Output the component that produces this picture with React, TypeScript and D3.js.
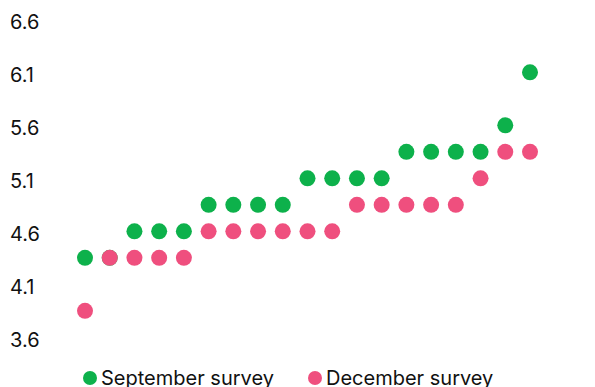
import React from "react";
import * as d3 from "d3";

const categories = Array.from({ length: 19 }, (_, i) => String(i + 1));
const september = [4.375, 4.375, 4.625, 4.625, 4.625, 4.875, 4.875, 4.875, 4.875, 5.125, 5.125, 5.125, 5.125, 5.375, 5.375, 5.375, 5.375, 5.625, 6.125];
const december = [3.875, 4.375, 4.375, 4.375, 4.375, 4.625, 4.625, 4.625, 4.625, 4.625, 4.625, 4.875, 4.875, 4.875, 4.875, 4.875, 5.125, 5.375, 5.375];
const yTicks = [3.6, 4.1, 4.6, 5.1, 5.6, 6.1, 6.6];
const seriesNames = ["September survey", "December survey"];
const colors = ["#0db14b", "#ef4f7e"];

export default function App() {
  const W = 595, H = 387;
  const x = d3.scalePoint<string>().domain(categories).range([85, 530]);
  const y = d3.scaleLinear().domain([3.6, 6.6]).range([340, 22]);
  const font = "Inter, 'Noto Sans', sans-serif";
  const series = [september, december];
  return (
    <svg width={W} height={H} style={{ position: "absolute", left: 0, top: 0 }} fontFamily={font}>
      {yTicks.map((t) => (
        <text key={t} x={10} y={y(t)} dy="0.36em" fontSize={20} fill="#111">
          {d3.format(".1f")(t)}
        </text>
      ))}
      {series.map((s, si) => (
        <g key={si}>
          {s.map((v, i) => (
            <circle key={i} cx={x(categories[i])} cy={y(v)} r={8} fill={colors[si]} />
          ))}
        </g>
      ))}
      {seriesNames.map((n, i) => {
        const lx = [90, 315][i];
        return (
          <g key={n}>
            <circle cx={lx} cy={378} r={7} fill={colors[i]} />
            <text x={lx + 11} y={378} dy="0.36em" fontSize={20} fill="#111">{n}</text>
          </g>
        );
      })}
    </svg>
  );
}
